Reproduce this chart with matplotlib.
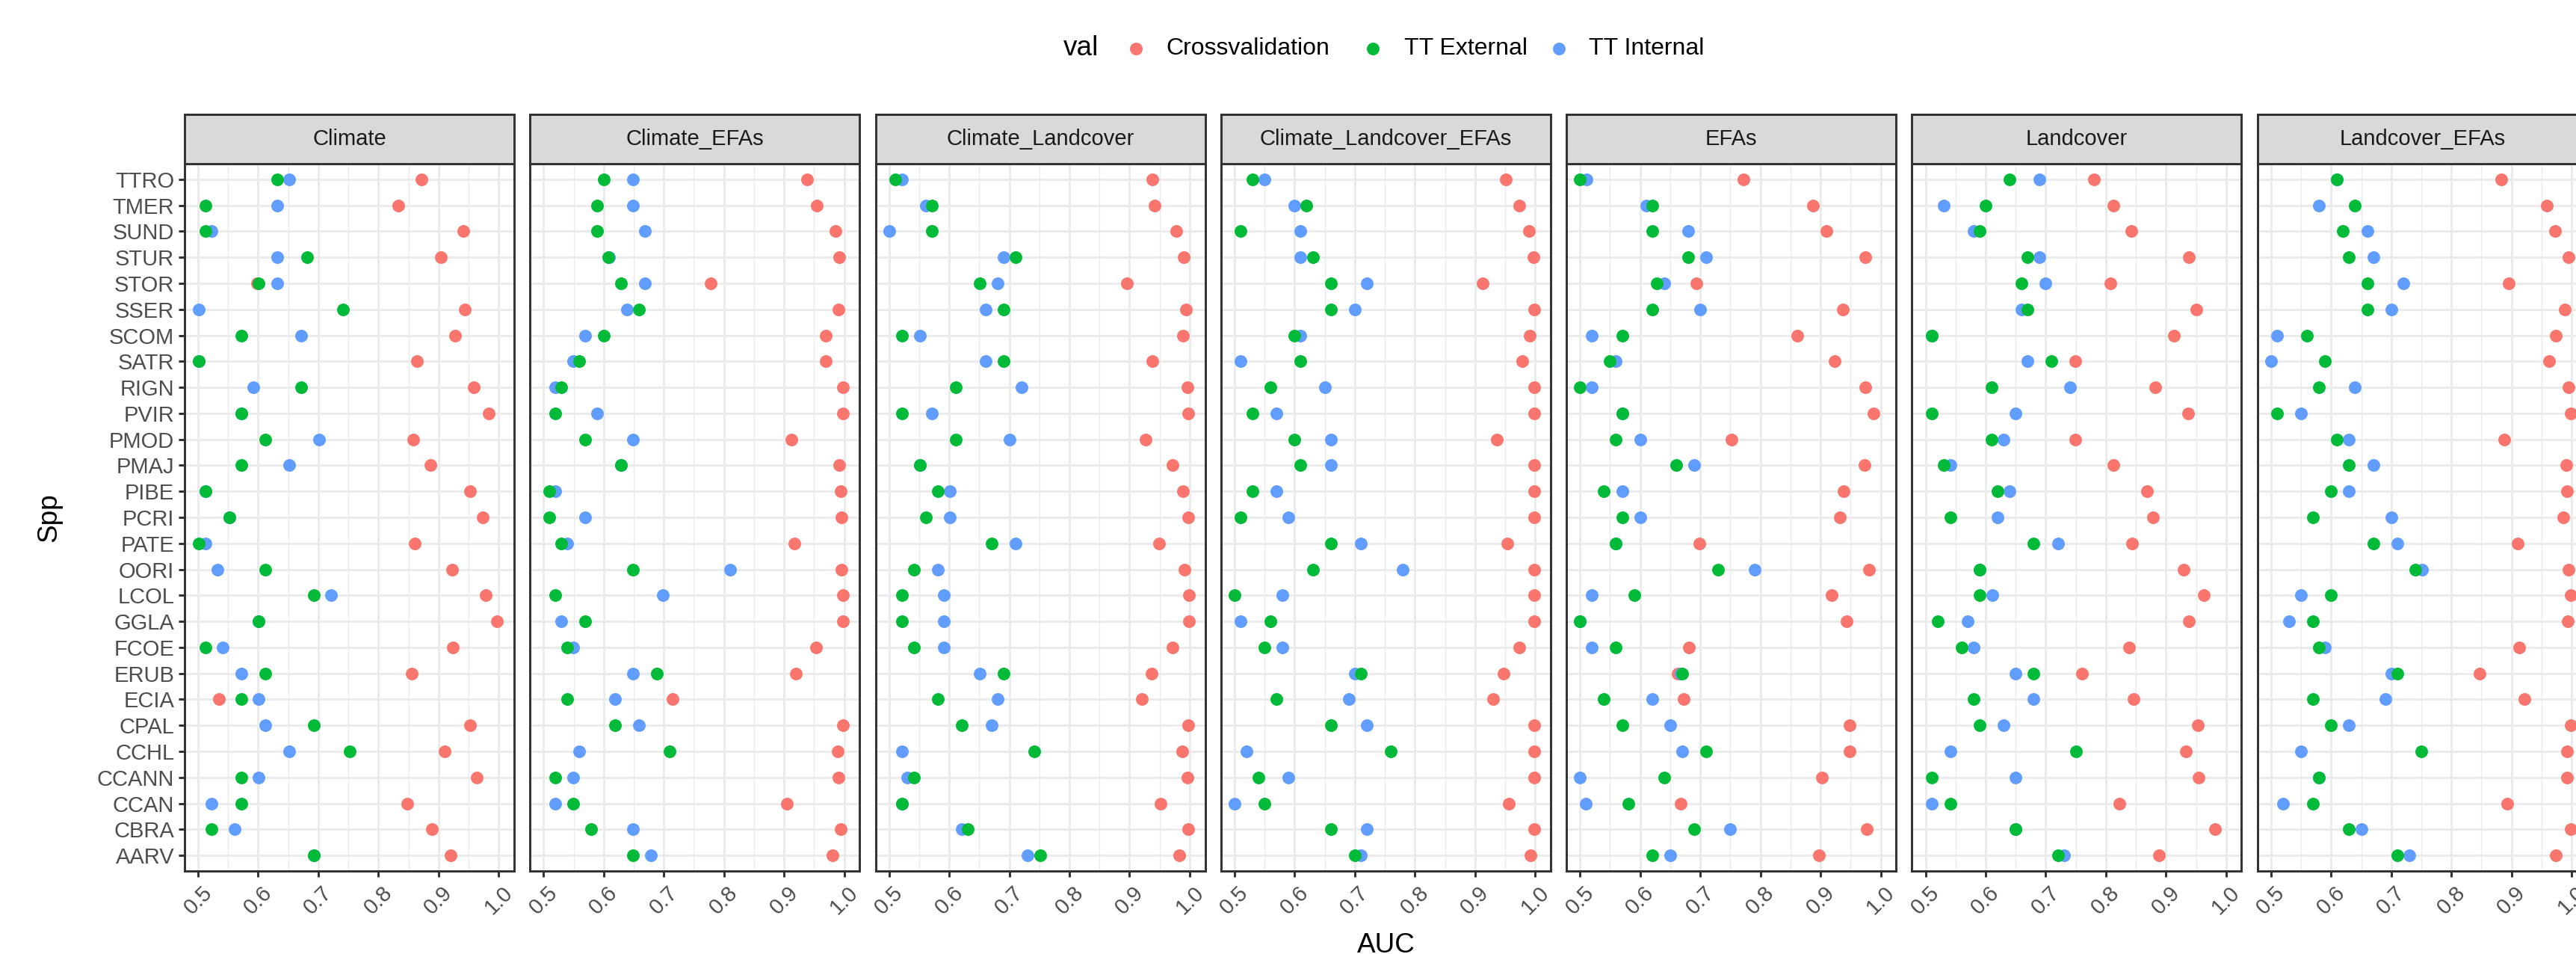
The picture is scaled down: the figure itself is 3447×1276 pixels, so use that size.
#!/usr/bin/env python3

import numpy as np
import matplotlib
matplotlib.use("Agg")
import matplotlib.pyplot as plt
from matplotlib.lines import Line2D

plt.rcParams['font.family'] = ['Liberation Sans', 'DejaVu Sans']

# species, listed top to bottom as they appear on the y axis
species = ["TTRO", "TMER", "SUND", "STUR", "STOR", "SSER", "SCOM", "SATR", "RIGN",
           "PVIR", "PMOD", "PMAJ", "PIBE", "PCRI", "PATE", "OORI", "LCOL", "GGLA",
           "FCOE", "ERUB", "ECIA", "CPAL", "CCHL", "CCANN", "CCAN", "CBRA", "AARV"]

models = ["Climate", "Climate_EFAs", "Climate_Landcover", "Climate_Landcover_EFAs",
          "EFAs", "Landcover", "Landcover_EFAs"]

series_names = ["Crossvalidation", "TT External", "TT Internal"]

# AUC per model, same species order as above
climate_cv = [.872, .833, .941, .904, .598, .944, .928, .864, .959, .984, .858, .887, .952, .974,
              .860, .923, .979, .997, .924, .856, .535, .952, .910, .963, .848, .889, .920]
climate_ext = [.632, .512, .512, .681, .601, .741, .572, .501, .672, .572, .612, .572, .512, .552,
               .501, .612, .692, .601, .512, .612, .572, .692, .752, .572, .572, .522, .692]
climate_int = [.652, .632, .522, .632, .632, .501, .672, .501, .592, .572, .701, .652, .512, .552,
               .512, .532, .721, .601, .541, .572, .601, .612, .652, .601, .522, .561, .692]

climate_efas_cv = [.938, .954, .985, .992, .778, .991, .970, .970, .998, .998, .912, .992, .994, .995,
                   .917, .995, .998, .998, .953, .920, .715, .998, .989, .990, .905, .994, .980]
climate_efas_ext = [.600, .589, .589, .608, .629, .659, .600, .559, .529, .519, .569, .629, .509, .509,
                    .529, .649, .519, .569, .539, .689, .539, .619, .710, .519, .549, .579, .649]
climate_efas_int = [.649, .649, .669, .609, .669, .639, .569, .549, .519, .589, .649, .629, .520, .569,
                    .539, .810, .699, .529, .549, .649, .619, .659, .559, .549, .519, .649, .679]

climate_lc_cv = [.938, .942, .978, .990, .896, .994, .989, .938, .996, .998, .927, .971, .989, .998,
                 .949, .992, .999, .999, .971, .937, .920, .997, .988, .996, .952, .998, .983]
climate_lc_ext = [.511, .571, .571, .711, .651, .691, .521, .691, .611, .521, .611, .551, .581, .561,
                  .671, .541, .521, .521, .541, .691, .581, .621, .741, .541, .521, .631, .751]
climate_lc_int = [.522, .561, .501, .691, .681, .661, .551, .661, .721, .571, .701, .551, .601, .601,
                  .711, .581, .591, .591, .591, .651, .681, .671, .521, .530, .521, .621, .731]

climate_lc_efas_cv = [.951, .974, .990, .997, .913, .998, .991, .979, .999, .999, .936, .998, .998, .998,
                      .954, .999, .999, .999, .974, .947, .930, .999, .998, .998, .956, .999, .992]
climate_lc_efas_ext = [.530, .620, .510, .630, .660, .660, .599, .610, .560, .530, .600, .610, .530, .510,
                       .660, .630, .500, .560, .550, .710, .570, .660, .760, .540, .550, .660, .700]
climate_lc_efas_int = [.550, .600, .610, .610, .720, .700, .610, .510, .650, .570, .660, .660, .570, .590,
                       .710, .780, .580, .510, .580, .700, .690, .720, .520, .590, .500, .720, .710]

efas_cv = [.772, .888, .910, .975, .694, .937, .862, .924, .975, .988, .752, .973, .939, .932,
           .698, .981, .918, .943, .681, .663, .672, .949, .949, .902, .667, .977, .898]
efas_ext = [.500, .620, .620, .680, .628, .620, .570, .550, .500, .570, .560, .660, .540, .570,
            .560, .730, .590, .500, .560, .670, .540, .570, .710, .640, .580, .690, .620]
efas_int = [.511, .610, .680, .710, .640, .700, .520, .560, .520, .570, .600, .690, .570, .600,
            .560, .790, .520, .500, .520, .668, .620, .650, .670, .500, .510, .750, .650]

lc_cv = [.780, .813, .843, .938, .808, .950, .913, .749, .882, .937, .749, .812, .868, .878,
         .844, .930, .963, .938, .839, .760, .846, .953, .933, .954, .822, .981, .888]
lc_ext = [.640, .600, .590, .670, .660, .670, .510, .710, .610, .510, .610, .530, .620, .541,
          .680, .590, .590, .520, .560, .680, .580, .590, .750, .510, .541, .650, .720]
lc_int = [.690, .531, .580, .690, .700, .660, .510, .670, .740, .650, .630, .541, .640, .620,
          .720, .590, .611, .570, .580, .650, .680, .630, .541, .650, .510, .650, .730]

lc_efas_cv = [.883, .959, .973, .995, .896, .989, .974, .963, .995, .999, .888, .991, .992, .986,
              .910, .995, .999, .994, .913, .847, .921, .999, .992, .992, .893, .999, .974]
lc_efas_ext = [.610, .640, .620, .630, .660, .660, .560, .590, .580, .510, .610, .630, .600, .570,
               .670, .740, .600, .570, .580, .710, .570, .600, .750, .580, .570, .630, .710]
lc_efas_int = [.610, .580, .660, .670, .720, .700, .510, .500, .640, .550, .630, .670, .630, .700,
               .710, .751, .550, .530, .590, .700, .690, .630, .550, .580, .520, .650, .730]

data = {
    "Climate": (climate_cv, climate_ext, climate_int),
    "Climate_EFAs": (climate_efas_cv, climate_efas_ext, climate_efas_int),
    "Climate_Landcover": (climate_lc_cv, climate_lc_ext, climate_lc_int),
    "Climate_Landcover_EFAs": (climate_lc_efas_cv, climate_lc_efas_ext, climate_lc_efas_int),
    "EFAs": (efas_cv, efas_ext, efas_int),
    "Landcover": (lc_cv, lc_ext, lc_int),
    "Landcover_EFAs": (lc_efas_cv, lc_efas_ext, lc_efas_int),
}

colors = ["#F8766D", "#00BA38", "#619CFF"]
zorders = [3, 5, 4]

W, H = 3448, 1276
DPI = 200
fig = plt.figure(figsize=(W / DPI, H / DPI), dpi=DPI)

grid_c = "#EBEBEB"
border_c = "#333333"
tick_c = "#4D4D4D"
lw = 1.07
ms = 6.1

n = len(species)
ypos = np.arange(n)[::-1]

panel_top, panel_bot = 219, 1165
strip_top = 153
x0, pitch, pw = 247, 462.3, 441

for i, m in enumerate(models):
    left = (x0 + pitch * i) / W
    ax = fig.add_axes([left, (H - panel_bot) / H, pw / W, (panel_bot - panel_top) / H])
    for k in range(3):
        ax.scatter(data[m][k], ypos, s=ms ** 2, color=colors[k], linewidths=0,
                   zorder=zorders[k], clip_on=False)
    ax.set_xlim(0.4776, 1.0257)
    ax.set_ylim(-0.6, n - 0.4)
    ax.set_xticks(np.arange(0.5, 1.01, 0.1))
    ax.set_xticklabels(["0.5", "0.6", "0.7", "0.8", "0.9", "1.0"], rotation=45,
                       ha="center", va="top", fontsize=10.5, color=tick_c)
    ax.set_xticks(np.arange(0.55, 1.0, 0.1), minor=True)
    ax.set_yticks(ypos)
    ax.tick_params(axis="x", which="major", length=2.75, width=lw, color=border_c, pad=2.5)
    ax.tick_params(axis="x", which="minor", length=0)
    if i == 0:
        ax.set_yticklabels(species, fontsize=10.5, color=tick_c)
        ax.tick_params(axis="y", length=2.75, width=lw, color=border_c, pad=2.2)
    else:
        ax.set_yticklabels([])
        ax.tick_params(axis="y", length=0)
    ax.grid(which="major", color=grid_c, lw=lw, zorder=0)
    ax.grid(which="minor", axis="x", color=grid_c, lw=lw / 2, zorder=0)
    ax.set_axisbelow(True)
    for sp in ax.spines.values():
        sp.set_color(border_c)
        sp.set_linewidth(lw)
        sp.set_zorder(6)

    sax = fig.add_axes([left, (H - panel_top) / H, pw / W, (panel_top - strip_top) / H])
    sax.set_facecolor("#D9D9D9")
    sax.set_xticks([])
    sax.set_yticks([])
    for sp in sax.spines.values():
        sp.set_color(border_c)
        sp.set_linewidth(lw)
    sax.text(0.5, 0.5, m, transform=sax.transAxes, ha="center", va="center",
             fontsize=10.5, color="#1A1A1A")

# axis titles
fig.text(1855 / W, 1 - 1265 / H, "AUC", ha="center", va="center", fontsize=13.3)
fig.text(66 / W, 1 - 692 / H, "Spp", ha="center", va="center", rotation=90, fontsize=13.3)

# legend at the top
ly = 1 - 65 / H
fig.text(1423 / W, ly, "val", ha="left", va="center", fontsize=13.3)
for k, (mx, tx) in enumerate([(1520, 1560), (1837, 1879), (2086, 2126)]):
    fig.add_artist(Line2D([mx / W], [ly], marker="o", markersize=ms, color=colors[k],
                          markeredgewidth=0, linestyle="none"))
    fig.text(tx / W, ly, series_names[k], ha="left", va="center", fontsize=11.5)

fig.savefig("out.png", dpi=DPI)
